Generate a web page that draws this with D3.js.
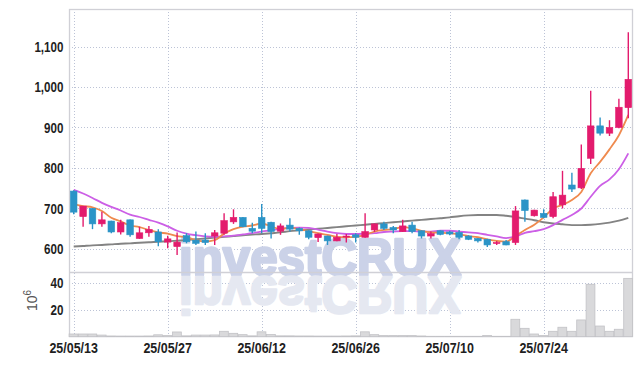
<!DOCTYPE html>
<html>
<head>
<meta charset="utf-8">
<title>investCRUX candles</title>
<script src="https://cdn.jsdelivr.net/npm/d3@7"></script>
<style>
  body { margin: 0; background: #fff; }
  .lbl { font-family: "Liberation Sans", Arial, sans-serif; font-weight: bold; font-size: 14px; fill: #1e1e1e; }
</style>
</head>
<body>
<div id="chart"></div>
<script>
// trading days (KRX), 2025
var dates = ["2025-05-13","2025-05-14","2025-05-15","2025-05-16","2025-05-19","2025-05-20","2025-05-21","2025-05-22","2025-05-23","2025-05-26",
  "2025-05-27","2025-05-28","2025-05-29","2025-05-30","2025-06-02","2025-06-04","2025-06-05","2025-06-09","2025-06-10","2025-06-11",
  "2025-06-12","2025-06-13","2025-06-16","2025-06-17","2025-06-18","2025-06-19","2025-06-20","2025-06-23","2025-06-24","2025-06-25",
  "2025-06-26","2025-06-27","2025-06-30","2025-07-01","2025-07-02","2025-07-03","2025-07-04","2025-07-07","2025-07-08","2025-07-09",
  "2025-07-10","2025-07-11","2025-07-14","2025-07-15","2025-07-16","2025-07-17","2025-07-18","2025-07-21","2025-07-22","2025-07-23",
  "2025-07-24","2025-07-25","2025-07-28","2025-07-29","2025-07-30","2025-07-31","2025-08-01","2025-08-04","2025-08-05","2025-08-06"];
var open  = [743,680,700,662,669,642,672,626,640,642, 617,606,633,622,622,632,639,667,678,651, 678,666,644,659,651,645,628,632,620,630,
             635,629,647,662,653,643,659,645,632,645, 642,641,632,626,624,615,618,616,721,682, 688,680,709,758,751,824,904,886,900,949];
var high  = [745,706,701,692,670,672,673,655,657,649, 633,641,639,643,639,647,688,698,679,665, 711,667,663,676,653,646,638,633,637,637,
             639,688,663,667,657,672,667,646,643,646, 645,647,634,627,625,620,622,706,722,697, 698,741,793,788,858,991,925,918,971,1135];
var low   = [686,655,649,655,639,636,630,625,630,607, 602,585,614,610,610,610,635,662,654,639, 639,626,635,643,635,624,617,610,619,616,
             616,628,642,647,639,642,639,626,626,634, 634,624,622,616,605,610,609,610,667,680, 676,676,700,741,748,810,880,879,898,923];
var close = [691,706,662,672,642,665,635,640,648,618, 625,617,618,614,616,640,670,678,655,644, 651,643,657,649,645,629,637,620,629,632,
             629,643,662,651,647,657,643,632,638,636, 637,629,624,620,610,616,610,694,695,696, 678,729,733,748,799,904,886,900,950,1019];
var volume = [2.0,2.0,2.0,1.2,0.5,0.4,0.4,0.4,0.5,1.4, 0.8,3.5,0.6,1.2,1.2,1.3,4.0,2.5,1.5,0.6, 3.6,1.6,0.6,0.6,0.5,0.5,0.4,0.4,0.4,0.5,
              0.6,3.6,1.5,0.8,0.8,0.8,0.8,0.5,0.2,0.2, 0.2,0.1,0.1,0.2,0.9,0.2,0.2,12.9,6.2,2.0, 0.8,4.0,7.0,4.0,12.4,38.8,7.9,4.0,5.5,43.2];
var maShort = [711,706,703,694,677,668,658,654,647,641, 638,632,629,622,619,622,638,649,655,658, 663,656,649,653,649,644,639,635,630,629,
               630,635,643,647,649,654,651,645,641,640, 639,636,632,629,624,620,618,632,647,660, 678,700,709,721,741,787,815,846,881,931];
var maMid   = [746,737,726,714,704,695,685,679,672,665, 656,645,638,634,631,630,631,633,636,639, 643,646,650,652,653,652,648,643,639,637,
               637,638,639,642,643,644,644,643,643,645, 645,643,641,639,635,631,627,631,640,644, 649,659,672,684,700,729,756,772,797,836];
var maLong  = [606,607.5,609,610,611.5,613,614,615.5,616.5,618, 619,620.5,622,624,626,628,630,632,634,635.5, 637,639,641,644,646,648,650,652,654,656,
               658,660,662,664,666,668,670,672,674,676, 678,681,683,684,684,684,682,679,675,671, 666,663,661,659,659,660,662,665,670,677];
var priceTicks = [600,700,800,900,1000,1100];
var volTicks = [20,40];
var dateTicks = ["2025-05-13","2025-05-27","2025-06-12","2025-06-26","2025-07-10","2025-07-24"];

var W = 643, H = 366;
var padL = 69, padR = 633, padT = 9, split = 272, padB = 337;
var upColor = "#e31b6d", downColor = "#2b94c7";

var svg = d3.select("#chart").append("svg").attr("width", W).attr("height", H);

var x = d3.scaleBand().domain(dates).range([padL, padR]).paddingInner(0.3).paddingOuter(0.15);
var cx = function (d) { return x(d) + x.bandwidth() / 2; };
var y = d3.scaleLinear().domain([543.2, 1192.6]).range([split, padT]);
var yv = d3.scaleLinear().domain([0, 47.9]).range([padB - 0.3, split]);

var fmtDate = function (s) { return d3.timeFormat("%y/%m/%d")(d3.timeParse("%Y-%m-%d")(s)); };

// grid
var grid = svg.append("g").attr("stroke", "#bcc3d6").attr("stroke-dasharray", "1,2").attr("stroke-width", 1);
grid.selectAll("line.h").data(priceTicks).enter().append("line")
  .attr("x1", padL).attr("x2", padR).attr("y1", function (d) { return Math.round(y(d)) + 0.5; }).attr("y2", function (d) { return Math.round(y(d)) + 0.5; });
grid.selectAll("line.v").data(volTicks).enter().append("line")
  .attr("x1", padL).attr("x2", padR).attr("y1", function (d) { return Math.round(yv(d)) + 0.5; }).attr("y2", function (d) { return Math.round(yv(d)) + 0.5; });
grid.selectAll("line.d").data(dateTicks).enter().append("line")
  .attr("y1", padT).attr("y2", padB).attr("x1", function (d) { return Math.round(cx(d)) + 0.5; }).attr("x2", function (d) { return Math.round(cx(d)) + 0.5; });

// watermark (heavy, with a faint mirror below)
var wm = svg.append("g").attr("font-family", "Liberation Sans, Arial, sans-serif").attr("font-weight", "bold").attr("font-size", 52)
  .attr("stroke-width", 2.6).attr("stroke-linejoin", "round");
wm.append("text").attr("x", 179).attr("y", 275).attr("textLength", 282).attr("lengthAdjust", "spacingAndGlyphs")
  .attr("fill", "#cbd2e8").attr("stroke", "#cbd2e8").text("investCRUX");
wm.append("text").attr("x", 179).attr("y", 275).attr("textLength", 282).attr("lengthAdjust", "spacingAndGlyphs")
  .attr("transform", "translate(0,552) scale(1,-1)").attr("fill", "#e5e8f1").attr("stroke", "#e5e8f1").text("investCRUX");

// frame
var frame = svg.append("g").attr("stroke", "#d0d0d6").attr("fill", "none");
frame.append("rect").attr("x", padL + 0.5).attr("y", padT + 0.5).attr("width", padR - padL - 1).attr("height", padB - padT - 1).attr("stroke-width", 1.3);
frame.append("line").attr("x1", padL).attr("x2", padR).attr("y1", split + 0.5).attr("y2", split + 0.5).attr("stroke-width", 1.3);

// volume
svg.append("g").selectAll("rect").data(dates).enter().append("rect")
  .attr("x", function (d) { return x(d) - 1.3; })
  .attr("width", x.step() - 0.6)
  .attr("y", function (d, i) { return yv(volume[i]); })
  .attr("height", function (d, i) { return yv(0) - yv(volume[i]); })
  .attr("fill", "#d9d9db").attr("stroke", "#c2c2c6").attr("stroke-width", 0.8);

// moving averages
var line = function (arr) {
  return d3.line().x(function (d) { return cx(d); }).y(function (d, i) { return y(arr[i]); }).curve(d3.curveMonotoneX)(dates);
};
svg.append("path").attr("d", line(maLong)).attr("fill", "none").attr("stroke", "#838383").attr("stroke-width", 1.9);
svg.append("path").attr("d", line(maMid)).attr("fill", "none").attr("stroke", "#cc5fe6").attr("stroke-width", 1.8);
svg.append("path").attr("d", line(maShort)).attr("fill", "none").attr("stroke", "#ef8a4e").attr("stroke-width", 1.8);

// candles
var candle = svg.append("g").selectAll("g").data(dates).enter().append("g")
  .attr("fill", function (d, i) { return close[i] >= open[i] ? upColor : downColor; })
  .attr("stroke", function (d, i) { return close[i] >= open[i] ? upColor : downColor; });
candle.append("line")
  .attr("x1", cx).attr("x2", cx)
  .attr("y1", function (d, i) { return y(high[i]); })
  .attr("y2", function (d, i) { return y(low[i]); })
  .attr("stroke-width", 1.4);
candle.append("rect")
  .attr("x", function (d) { return x(d); })
  .attr("width", x.bandwidth())
  .attr("y", function (d, i) { return y(Math.max(open[i], close[i])); })
  .attr("height", function (d, i) { return Math.max(1, Math.abs(y(open[i]) - y(close[i]))); })
  .attr("stroke-width", 0.6);

// axes
var ay = svg.append("g").attr("transform", "translate(" + padL + ",0)")
  .call(d3.axisLeft(y).tickValues(priceTicks).tickFormat(d3.format(",")).tickSize(0).tickPadding(7));
var av = svg.append("g").attr("transform", "translate(" + padL + ",0)")
  .call(d3.axisLeft(yv).tickValues(volTicks).tickSize(0).tickPadding(7));
var ax = svg.append("g").attr("transform", "translate(0," + padB + ")")
  .call(d3.axisBottom(x).tickValues(dateTicks).tickFormat(fmtDate).tickSize(0).tickPadding(6));
[ay, av, ax].forEach(function (g) {
  g.select(".domain").remove();
  g.attr("font-family", null).attr("font-size", null);
  g.selectAll("text").attr("class", "lbl");
});
// narrow the label glyphs like the reference's condensed face
ay.selectAll("text").attr("transform", "scale(0.8,1)").style("font-size", "14.5px");
av.selectAll("text").attr("transform", "scale(0.8,1)").style("font-size", "14.5px");
ax.selectAll("text").attr("transform", "scale(0.86,1)").style("font-size", "14.5px");

// volume unit label
var unit = svg.append("text").attr("transform", "translate(37,311) rotate(-90)")
  .attr("font-family", "Liberation Sans, Arial, sans-serif").attr("font-size", 14).attr("fill", "#555");
unit.append("tspan").text("10");
unit.append("tspan").attr("dy", -6).attr("font-size", 10).text("6");
</script>
</body>
</html>
